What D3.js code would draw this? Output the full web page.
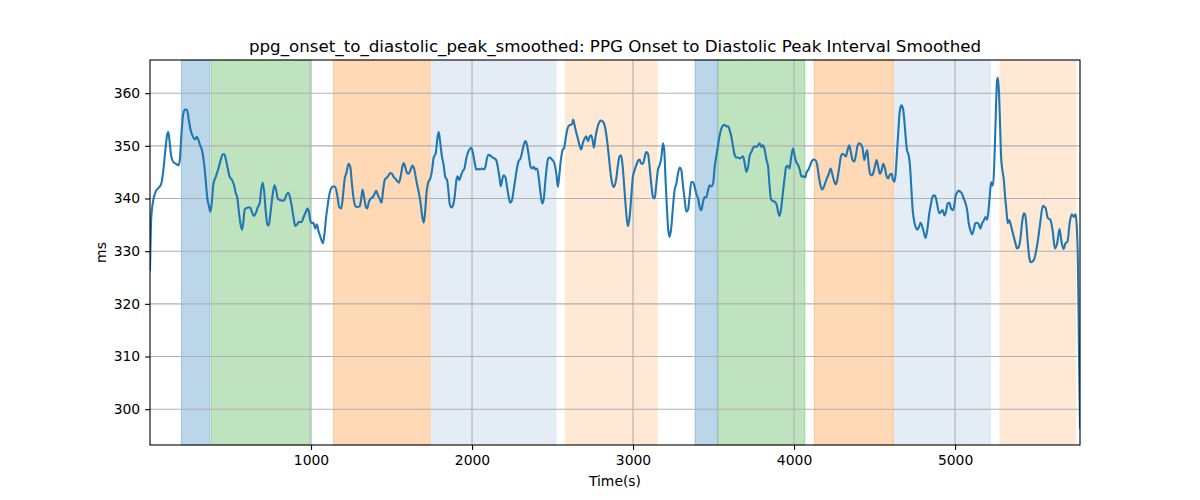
<!DOCTYPE html>
<html><head><meta charset="utf-8">
<script src="https://cdn.jsdelivr.net/npm/d3@7"></script>
<style>body{margin:0;background:#fff} svg{display:block} text{font-family:"DejaVu Sans",sans-serif;fill:#000}</style>
</head><body><svg id="chart" width="1200" height="500"></svg>
<script>
const titleText = "ppg_onset_to_diastolic_peak_smoothed: PPG Onset to Diastolic Peak Interval Smoothed";
const xLabel = "Time(s)";
const yLabel = "ms";
const xTicks = [1000, 2000, 3000, 4000, 5000];
const yTicks = [300, 310, 320, 330, 340, 350, 360];
const xDomain = [0, 5776];
const yDomain = [293.2, 366.3];

const spanStarts = [195, 381, 1140, 1743, 2576, 3385, 3528, 4125, 4622, 5276];
const spanEnds   = [373, 995, 1741, 2525, 3153, 3524, 4067, 4618, 5224, 5753];
const spanKinds  = ["blue", "green", "orange", "lightblue", "peach", "blue", "green", "orange", "lightblue", "peach"];
const kindFill   = {blue: "#1f77b4", green: "#2ca02c", orange: "#ff7f0e", lightblue: "#e4ecf6", peach: "#ffe8d4"};
const kindAlpha  = {blue: 0.3, green: 0.3, orange: 0.3, lightblue: 1, peach: 1};

const times = [0,8,20.5,35,56,70,83,95,108,114,122,132,145,161,178,186,195,205,217,230,240,253,267,280,290,300,311,323,336,346,356,365,375,383,394,408,425,439,452,462,472,483,495,510,522,532,543,553,564,572,580,588,599,611,622,632,644,657,669,682,690,700,709,719,729,738,748,761,773,783,794,808,823,835,846,858,870,881,891,901,914,926,941,953,966,978,987,995,1005,1015,1026,1036,1045,1055,1065,1074,1084,1094,1105,1115,1125,1138,1150,1163,1175,1188,1198,1208,1221,1233,1244,1254,1266,1277,1289,1302,1312,1320,1331,1341,1349,1360,1372,1385,1395,1405,1416,1426,1438,1449,1459,1472,1482,1492,1503,1513,1526,1536,1546,1557,1567,1575,1586,1596,1606,1619,1629,1640,1650,1660,1671,1681,1691,1700,1708,1718,1729,1741,1752,1762,1774,1785,1793,1801,1812,1824,1834,1845,1853,1861,1872,1882,1892,1903,1911,1921,1932,1942,1953,1963,1973,1984,1996,2006,2017,2027,2040,2050,2060,2073,2083,2094,2104,2116,2127,2139,2150,2160,2170,2179,2187,2197,2208,2216,2226,2237,2247,2257,2268,2278,2288,2301,2311,2322,2332,2342,2353,2363,2373,2384,2394,2405,2415,2425,2436,2446,2454,2463,2473,2485,2496,2506,2516,2525,2533,2541,2552,2562,2572,2583,2593,2604,2614,2622,2628,2637,2647,2657,2668,2678,2688,2699,2709,2720,2730,2740,2749,2757,2767,2778,2788,2798,2809,2819,2829,2840,2850,2861,2871,2880,2896,2906,2916,2925,2933,2941,2950,2958,2968,2979,2989,2999,3010,3020,3030,3041,3051,3062,3072,3082,3093,3103,3113,3124,3134,3144,3155,3165,3176,3186,3194,3202,3211,3219,3227,3238,3248,3258,3269,3279,3290,3300,3310,3321,3331,3341,3352,3362,3372,3383,3393,3404,3414,3424,3435,3445,3455,3466,3476,3486,3497,3507,3518,3528,3538,3549,3559,3569,3580,3590,3601,3611,3621,3632,3642,3652,3663,3673,3683,3694,3704,3715,3725,3735,3746,3756,3766,3777,3787,3797,3808,3818,3829,3839,3847,3856,3868,3880,3893,3901,3910,3920,3930,3941,3951,3961,3972,3982,3994,4005,4013,4026,4036,4046,4057,4069,4079,4090,4100,4111,4121,4133,4144,4154,4164,4175,4185,4196,4206,4216,4227,4237,4247,4260,4270,4281,4291,4301,4312,4322,4332,4343,4353,4363,4374,4384,4395,4405,4415,4426,4436,4446,4455,4463,4473,4484,4494,4504,4513,4523,4533,4544,4554,4565,4575,4585,4596,4606,4614,4623,4631,4639,4648,4656,4666,4677,4685,4693,4701,4712,4720,4728,4737,4745,4755,4766,4776,4786,4797,4807,4817,4830,4840,4851,4861,4871,4882,4892,4902,4913,4923,4934,4944,4954,4965,4975,4985,4994,5002,5012,5023,5033,5043,5054,5064,5075,5085,5095,5106,5116,5126,5137,5147,5157,5168,5178,5189,5199,5207,5215,5224,5230,5236,5242,5249,5255,5261,5267,5274,5280,5286,5294,5303,5311,5319,5327,5336,5344,5354,5365,5375,5385,5396,5406,5417,5427,5435,5444,5452,5462,5470,5489,5510,5530,5545,5562,5576,5593,5607,5620,5634,5649,5661,5674,5686,5698,5713,5725,5738,5748,5754,5763,5770,5776];
const values = [326.5,336.5,339.7,341.3,342.1,342.8,345.4,349.1,352.3,352.6,350.7,348.0,346.9,346.6,346.3,347.6,352.0,355.8,356.9,356.85,355.1,352.9,351.7,351.2,351.7,351.2,350.1,349.15,346.6,343.5,340.0,338.7,337.5,339.05,342.8,344.1,345.7,347.3,348.4,348.4,347.3,345.7,344.1,343.5,342.5,341.1,340.0,337.2,334.9,334.1,335.6,337.9,338.2,338.3,338.3,337.5,336.7,337.2,338.3,339.2,341.6,343.0,341.3,337.5,335.1,334.9,337.2,340.6,342.5,341.6,340.0,339.7,339.6,339.7,340.6,341.1,340.2,338.4,336.5,334.8,335.1,335.6,335.5,336.4,337.3,338.1,337.5,335.9,335.3,335.4,334.3,335.1,334.0,333.0,332.1,331.5,333.4,336.5,339.0,340.9,341.9,342.3,342.2,340.6,338.4,338.1,340.3,343.5,345.0,346.6,346.0,342.8,339.7,338.5,338.4,338.5,340.0,341.7,340.0,338.4,338.1,339.4,340.0,340.3,340.9,341.45,340.6,340.0,339.2,341.9,343.6,344.0,344.4,344.85,344.7,344.1,343.7,343.3,343.0,344.2,346.0,346.75,345.9,344.85,344.7,345.5,346.25,345.7,344.1,342.5,340.9,339.05,336.5,335.4,337.2,341.3,343.15,343.8,345.4,347.8,348.5,351.4,352.6,351.05,348.2,346.3,344.1,343.5,341.6,339.05,338.3,338.7,340.3,343.5,344.2,343.5,344.4,345.2,345.7,347.4,348.6,349.3,349.65,348.6,346.75,345.5,345.6,345.5,345.7,345.5,346.0,347.8,348.3,348.1,347.8,347.6,347.3,346.0,344.1,342.3,343.5,344.4,344.0,342.5,340.6,339.2,339.55,341.3,343.5,345.5,347.0,347.6,348.8,350.3,350.9,350.1,348.0,346.1,345.7,346.0,345.5,345.7,343.8,341.1,339.05,340.0,342.8,345.7,347.6,347.8,347.4,347.1,346.1,344.4,342.2,344.1,347.4,349.15,349.6,351.7,353.3,353.9,354.0,354.2,355.0,353.9,352.6,351.4,350.1,349.3,350.5,351.4,351.8,350.9,351.7,352.0,351.05,349.65,351.7,353.4,354.3,354.8,354.7,354.3,353.1,350.7,347.9,344.7,342.8,342.2,343.8,346.3,348.0,348.2,346.9,344.1,340.3,337.2,334.75,336.5,340.3,344.1,345.4,346.3,347.1,347.4,346.6,346.6,347.8,348.8,348.5,346.0,342.8,340.3,340.0,342.5,345.5,346.3,347.8,350.5,349.15,343.5,337.8,334.0,332.7,334.6,338.4,341.6,342.8,344.7,345.9,345.4,342.5,339.7,337.5,337.8,340.6,343.15,343.15,342.2,340.9,340.0,338.4,337.8,339.4,340.3,340.2,341.6,342.5,342.3,342.8,346.0,348.2,350.1,352.0,353.3,353.9,354.0,353.7,353.7,352.9,351.7,349.9,348.2,347.8,347.8,347.6,347.8,348.0,346.6,345.05,346.1,348.2,348.8,349.65,349.9,349.8,350.1,350.5,349.8,350.1,349.15,347.3,346.0,342.8,340.0,339.5,339.4,338.7,337.5,336.7,338.1,340.9,343.8,346.0,346.2,345.7,347.8,349.5,347.9,347.0,346.3,345.4,344.2,344.2,344.0,345.05,345.5,346.3,347.1,347.4,347.3,346.3,344.2,342.5,341.7,342.2,343.15,344.0,344.7,345.7,344.7,343.5,342.7,343.8,346.0,348.0,348.5,348.3,348.0,349.15,350.1,348.8,347.3,347.0,348.2,350.1,350.5,350.3,349.5,347.3,348.5,349.15,346.6,344.6,344.4,345.05,346.3,347.3,346.0,344.7,345.4,346.6,345.7,344.2,343.8,344.6,344.7,343.6,343.15,344.7,348.5,352.9,356.4,357.7,357.0,354.8,351.7,349.3,348.2,346.3,342.2,337.8,335.9,334.6,334.1,334.6,335.4,334.6,333.5,332.5,334.6,337.2,339.05,340.4,340.6,340.0,338.4,337.2,337.5,337.8,336.8,337.5,339.05,339.2,338.1,337.8,338.4,340.3,341.1,341.45,341.3,340.9,340.0,339.2,337.8,335.3,334.0,333.2,334.1,335.3,335.4,335.1,334.3,335.3,335.8,336.5,336.0,337.5,340.3,343.15,342.5,342.5,345.4,351.7,358.0,362.4,362.9,359.2,353.6,347.9,345.4,343.5,340.3,337.8,335.3,335.9,335.3,334.0,332.7,331.5,330.5,330.85,332.4,335.6,337.2,337.0,334.6,331.5,328.6,327.9,328.3,331.15,335.6,338.6,338.2,336.3,335.9,333.7,330.5,331.5,334.2,331.8,330.4,331.5,331.8,335.6,337.0,336.5,337.0,335.6,328.0,310.0,296.5];

const W = 1200, H = 500;
const m = {left: 150, right: 1080, top: 60, bottom: 445};
const svg = d3.select("#chart");

const x = d3.scaleLinear().domain(xDomain).range([m.left, m.right]);
const y = d3.scaleLinear().domain(yDomain).range([m.bottom, m.top]);

const spans = spanStarts.map((s, i) => ({s, e: spanEnds[i], k: spanKinds[i]}));

const plot = svg.append("g");
plot.selectAll("rect.span").data(spans).enter().append("rect")
  .attr("class", "span")
  .attr("x", d => x(d.s)).attr("y", m.top)
  .attr("width", d => x(d.e) - x(d.s)).attr("height", m.bottom - m.top)
  .attr("fill", d => kindFill[d.k]).attr("fill-opacity", d => kindAlpha[d.k])
  .attr("stroke", d => kindFill[d.k]).attr("stroke-opacity", d => kindAlpha[d.k] < 1 ? kindAlpha[d.k] : 0)
  .attr("stroke-width", 1);

// grid
plot.selectAll("line.gx").data(xTicks).enter().append("line")
  .attr("x1", d => x(d)).attr("x2", d => x(d))
  .attr("y1", m.top).attr("y2", m.bottom)
  .attr("stroke", "#b0b0b0").attr("stroke-width", 1.1);
plot.selectAll("line.gy").data(yTicks).enter().append("line")
  .attr("y1", d => y(d)).attr("y2", d => y(d))
  .attr("x1", m.left).attr("x2", m.right)
  .attr("stroke", "#b0b0b0").attr("stroke-width", 1.1);

// line
const pts = times.map((t, i) => [t, values[i]]);
svg.append("defs").append("clipPath").attr("id", "clip").append("rect")
  .attr("x", m.left).attr("y", m.top).attr("width", m.right - m.left).attr("height", m.bottom - m.top);
plot.append("path").datum(pts)
  .attr("clip-path", "url(#clip)")
  .attr("fill", "none").attr("stroke", "#1f77b4").attr("stroke-width", 2.1)
  .attr("stroke-linejoin", "round").attr("stroke-linecap", "square")
  .attr("d", d3.line().x(d => x(d[0])).y(d => y(d[1])).curve(d3.curveMonotoneX));

// axes
const xAxis = svg.append("g").attr("transform", `translate(0,${m.bottom})`)
  .call(d3.axisBottom(x).tickValues(xTicks).tickSize(4.9).tickPadding(4.9).tickFormat(d3.format("d")));
const yAxis = svg.append("g").attr("transform", `translate(${m.left},0)`)
  .call(d3.axisLeft(y).tickValues(yTicks).tickSize(4.9).tickPadding(4.9).tickFormat(d3.format("d")));
[xAxis, yAxis].forEach(g => {
  g.select(".domain").remove();
  g.selectAll(".tick line").attr("stroke", "#000").attr("stroke-width", 1.1);
  g.selectAll(".tick text").attr("font-family", "DejaVu Sans").attr("font-size", "13.9px").attr("fill", "#000");
});

// spines
svg.append("rect").attr("x", m.left).attr("y", m.top)
  .attr("width", m.right - m.left).attr("height", m.bottom - m.top)
  .attr("fill", "none").attr("stroke", "#000").attr("stroke-width", 1.1);

// labels
svg.append("text").attr("x", (m.left + m.right) / 2).attr("y", 52)
  .attr("text-anchor", "middle").attr("font-size", "16.7px").text(titleText);
svg.append("text").attr("x", (m.left + m.right) / 2).attr("y", 486)
  .attr("text-anchor", "middle").attr("font-size", "13.9px").text(xLabel);
svg.append("text").attr("transform", `translate(106,${(m.top + m.bottom) / 2}) rotate(-90)`)
  .attr("text-anchor", "middle").attr("font-size", "13.9px").text(yLabel);
</script></body></html>
